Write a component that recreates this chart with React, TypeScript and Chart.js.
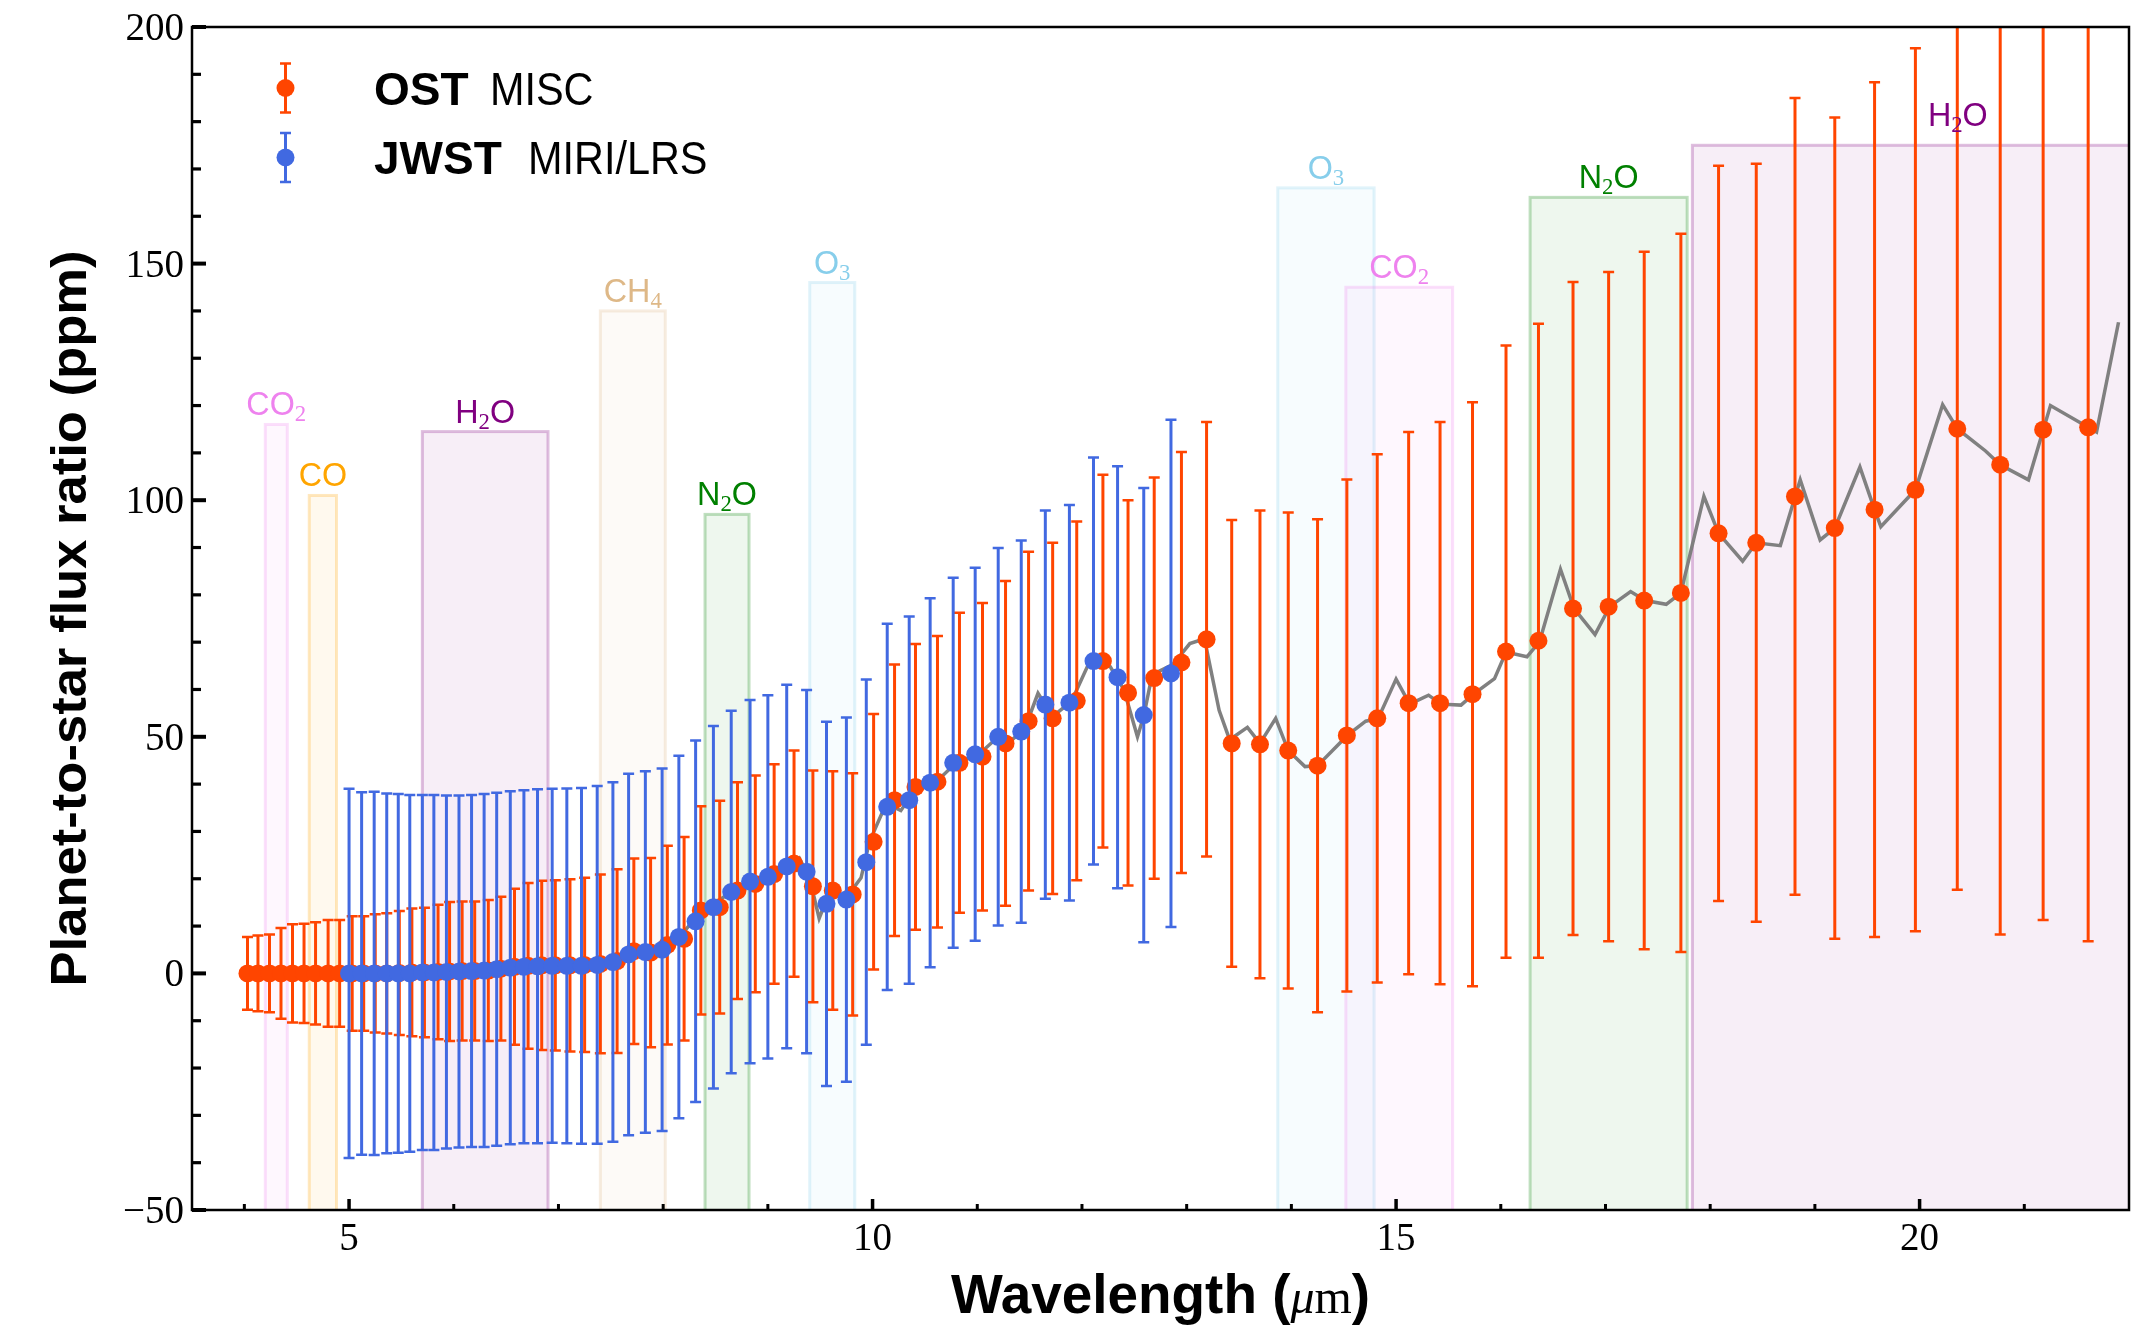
import React, { useEffect, useRef } from "react";
import { Chart, registerables } from "chart.js";

Chart.register(...registerables);

const W = 2152;
const H = 1326;

// ---------------- data ----------------
const ostWavelength = [
  4.03, 4.13, 4.24, 4.35, 4.46, 4.57, 4.68, 4.8, 4.91, 5.03, 5.14, 5.25, 5.36, 5.48, 5.6, 5.72, 5.85, 5.96,
  6.08, 6.2, 6.33, 6.45, 6.58, 6.71, 6.84, 6.97, 7.11, 7.25, 7.4, 7.56, 7.72, 7.88, 8.04, 8.2, 8.36, 8.54,
  8.71, 8.88, 9.06, 9.25, 9.43, 9.62, 9.81, 10.01, 10.21, 10.41, 10.62, 10.83, 11.05, 11.27, 11.49, 11.72,
  11.95, 12.2, 12.44, 12.69, 12.95, 13.19, 13.43, 13.7, 13.97, 14.25, 14.53, 14.82, 15.12, 15.42, 15.73,
  16.05, 16.36, 16.69, 17.03, 17.37, 17.72, 18.08, 18.44, 18.81, 19.19, 19.57, 19.96, 20.36, 20.77, 21.18,
  21.61,
];
const ostFlux = [
  0, 0, 0, 0, 0, 0, 0, 0, 0, 0, 0, 0, 0, 0.1, 0.2, 0.2, 0.3, 0.4, 0.5, 0.5, 0.6, 1.0, 1.4, 1.6, 1.7, 1.7,
  1.7, 1.8, 2.0, 2.6, 4.7, 4.4, 6.0, 7.3, 13.3, 14.0, 17.5, 18.9, 21.0, 23.2, 18.4, 17.5, 16.7, 27.8, 36.6,
  39.4, 40.5, 44.5, 45.8, 48.6, 53.3, 53.9, 57.6, 66.0, 59.3, 62.4, 65.7, 70.6, 48.6, 48.4, 47.1, 43.9, 50.3,
  53.9, 57.1, 57.1, 59.0, 68.0, 70.3, 77.1, 77.5, 78.8, 80.4, 93.0, 91.0, 100.8, 94.1, 98.0, 102.2, 115.1,
  107.5, 114.9, 115.4,
];
const ostError = [
  7.7, 8.0, 8.2, 9.6, 10.4, 10.5, 10.8, 11.3, 11.3, 12.1, 12.1, 12.5, 12.7, 13.1, 13.5, 13.7, 14.2, 14.7,
  14.7, 14.7, 14.9, 15.2, 16.5, 17.5, 17.9, 18.0, 18.2, 18.4, 18.9, 19.4, 19.6, 20.0, 21.0, 21.5, 22.0, 22.5,
  22.9, 22.9, 23.2, 23.9, 24.5, 25.2, 25.6, 27.0, 28.7, 30.2, 30.8, 31.7, 32.5, 34.3, 35.8, 37.1, 37.9, 39.4,
  40.7, 42.4, 44.5, 45.9, 47.2, 49.4, 50.3, 52.1, 54.1, 55.8, 57.3, 59.4, 61.7, 64.7, 67.0, 69.0, 70.7, 73.7,
  75.9, 77.7, 80.1, 84.2, 86.8, 90.3, 93.3, 97.4, 99.3, 103.6, 108.6,
];

const jwstWavelength = [
  5.0, 5.12, 5.24, 5.36, 5.47, 5.58, 5.7, 5.81, 5.93, 6.05, 6.17, 6.29, 6.41, 6.54, 6.67, 6.8, 6.94, 7.08,
  7.22, 7.37, 7.52, 7.67, 7.83, 7.99, 8.15, 8.31, 8.48, 8.65, 8.83, 9.0, 9.18, 9.37, 9.56, 9.75, 9.94, 10.14,
  10.35, 10.55, 10.77, 10.98, 11.2, 11.42, 11.65, 11.88, 12.11, 12.34, 12.59, 12.85,
];
const jwstFlux = [
  0, 0, 0, 0, 0, 0, 0.2, 0.2, 0.3, 0.4, 0.5, 0.6, 0.9, 1.2, 1.4, 1.5, 1.6, 1.6, 1.6, 1.8, 2.4, 4.0, 4.5, 5.0,
  7.7, 11.0, 14.0, 17.2, 19.4, 20.4, 22.6, 21.5, 14.7, 15.6, 23.5, 35.2, 36.6, 40.3, 44.5, 46.3, 50.0, 51.1,
  56.8, 57.2, 66.0, 62.6, 54.6, 63.4,
];
const jwstError = [
  39.0, 38.3, 38.4, 38.0, 37.9, 37.7, 37.5, 37.5, 37.3, 37.2, 37.2, 37.3, 37.3, 37.3, 37.3, 37.4, 37.4, 37.5,
  37.6, 37.8, 38.0, 38.2, 38.2, 38.3, 38.3, 38.2, 38.3, 38.3, 38.4, 38.4, 38.4, 38.4, 38.5, 38.5, 38.6, 38.7,
  38.8, 39.0, 39.1, 39.4, 39.9, 40.4, 41.0, 41.8, 43.0, 44.6, 48.0, 53.6,
];

const modelWavelength = [
  4.0, 4.5, 5.0, 5.5, 6.0, 6.5, 7.0, 7.4, 7.55, 7.7, 7.85, 8.0, 8.15, 8.3, 8.45, 8.6, 8.75, 8.9, 9.05, 9.2,
  9.3, 9.4, 9.49, 9.55, 9.61, 9.75, 9.89, 9.97, 10.13, 10.27, 10.35, 10.45, 10.6, 10.75, 10.85, 11.0, 11.2,
  11.3, 11.45, 11.58, 11.72, 11.9, 12.08, 12.27, 12.4, 12.53, 12.59, 12.67, 12.87, 13.03, 13.17, 13.31, 13.41,
  13.58, 13.7, 13.85, 13.97, 14.13, 14.25, 14.54, 14.71, 14.83, 15.0, 15.13, 15.31, 15.43, 15.62, 15.74, 15.94,
  16.05, 16.25, 16.37, 16.57, 16.7, 16.9, 17.04, 17.24, 17.38, 17.58, 17.72, 17.94, 18.08, 18.31, 18.44, 18.67,
  18.86, 19.05, 19.19, 19.43, 19.57, 19.63, 19.96, 20.22, 20.36, 20.63, 20.77, 21.04, 21.25, 21.61, 21.69,
  21.9,
];
const modelFlux = [
  0, 0, 0, 0.1, 0.3, 1.0, 1.6, 1.9, 2.5, 4.3, 4.4, 5.2, 7.5, 11.5, 14.0, 16.5, 18.0, 19.2, 20.8, 23.0, 24.4,
  20.0, 11.6, 15.0, 16.7, 16.0, 20.2, 27.8, 35.9, 34.4, 37.0, 39.4, 40.3, 43.5, 45.0, 46.0, 50.0, 48.8, 51.5,
  59.2, 54.3, 57.5, 66.2, 64.8, 60.0, 50.0, 54.4, 63.1, 65.3, 69.7, 70.7, 55.6, 49.4, 52.0, 48.6, 53.9, 47.1,
  43.7, 43.9, 50.4, 53.3, 53.9, 62.2, 56.9, 58.8, 56.9, 56.7, 59.0, 62.3, 67.9, 66.9, 70.1, 85.4, 77.1, 71.6,
  77.5, 80.7, 78.8, 78.0, 80.4, 100.8, 93.0, 87.1, 91.0, 90.4, 104.3, 91.6, 94.1, 107.0, 98.0, 94.4, 102.2,
  120.2, 115.1, 110.4, 107.5, 104.3, 120.0, 115.4, 114.4, 137.6,
];

const bandMolecule = ["CO2", "CO", "H2O", "CH4", "N2O", "O3", "O3", "CO2", "N2O", "H2O"];
const bandStart = [4.2, 4.62, 5.7, 7.4, 8.4, 9.4, 13.87, 14.52, 16.28, 17.83];
const bandEnd = [4.41, 4.88, 6.9, 8.02, 8.82, 9.83, 14.79, 15.54, 17.78, 22.9];
const bandTop = [116, 101, 114.5, 140, 97, 146, 166, 145, 164, 175];
const bandColor = ["#EE82EE", "#FFA500", "#800080", "#DEB887", "#008000", "#87CEEB", "#87CEEB", "#EE82EE", "#008000", "#800080"];
const bandLabelLift = [9, 9, 9, 9, 9, 9, 9, 9, 9, 19];

const xMajorTicks = [5, 10, 15, 20];
const xMinorTicks = [4, 6, 7, 8, 9, 11, 12, 13, 14, 16, 17, 18, 19, 21];
const yMajorTicks = [-50, 0, 50, 100, 150, 200];
const yMinorTicks = [-40, -30, -20, -10, 10, 20, 30, 40, 60, 70, 80, 90, 110, 120, 130, 140, 160, 170, 180, 190];

const OST_COLOR = "#FF4500";
const JWST_COLOR = "#4169E1";
const SANS = '"Liberation Sans", Arial, sans-serif';
const SERIF = '"Liberation Serif", "Times New Roman", serif';

// ---------------- helpers ----------------
function rgba(hex: string, a: number) {
  const n = parseInt(hex.slice(1), 16);
  return `rgba(${(n >> 16) & 255},${(n >> 8) & 255},${n & 255},${a})`;
}

type Run = { text: string; font: string; dy?: number };

function drawRuns(
  ctx: CanvasRenderingContext2D,
  runs: Run[],
  x: number,
  y: number,
  align: "left" | "center",
  scaleX = 1,
  targetWidth?: number
) {
  let total = 0;
  const ws = runs.map((r) => {
    ctx.font = r.font;
    const w = ctx.measureText(r.text).width;
    total += w;
    return w;
  });
  const sx = targetWidth ? targetWidth / total : scaleX;
  ctx.save();
  ctx.translate(x, y);
  ctx.scale(sx, 1);
  ctx.textBaseline = "alphabetic";
  ctx.textAlign = "left";
  let cx = align === "center" ? -total / 2 : 0;
  runs.forEach((r, i) => {
    ctx.font = r.font;
    ctx.fillText(r.text, cx, r.dy ?? 0);
    cx += ws[i];
  });
  ctx.restore();
}

function moleculeRuns(m: string): Run[] {
  return m.split("").map((ch) =>
    /[0-9]/.test(ch)
      ? { text: ch, font: `24px ${SERIF}`, dy: 6 }
      : { text: ch, font: `34px ${SANS}` }
  );
}

// ---------------- plugins ----------------
const bandPlugin = {
  id: "bands",
  beforeDatasetsDraw(chart: any) {
    const { ctx, chartArea: a, scales } = chart;
    const xs = scales.x;
    const ys = scales.y;
    ctx.save();
    ctx.beginPath();
    ctx.rect(a.left, a.top, a.right - a.left, a.bottom - a.top);
    ctx.clip();
    bandMolecule.forEach((_m, i) => {
      const x0 = xs.getPixelForValue(bandStart[i]);
      const x1 = xs.getPixelForValue(bandEnd[i]);
      const yt = ys.getPixelForValue(bandTop[i]);
      const yb = ys.getPixelForValue(-50) + 3;
      ctx.fillStyle = rgba(bandColor[i], 0.065);
      ctx.fillRect(x0, yt, x1 - x0, yb - yt);
      ctx.strokeStyle = rgba(bandColor[i], 0.25);
      ctx.lineWidth = 3;
      ctx.strokeRect(x0, yt, x1 - x0, yb - yt);
    });
    ctx.restore();
  },
  afterDatasetsDraw(chart: any) {
    const { ctx, scales } = chart;
    const xs = scales.x;
    const ys = scales.y;
    ctx.save();
    bandMolecule.forEach((m, i) => {
      const cx = (xs.getPixelForValue(bandStart[i]) + xs.getPixelForValue(bandEnd[i])) / 2;
      const yt = ys.getPixelForValue(bandTop[i]);
      ctx.fillStyle = bandColor[i];
      drawRuns(ctx, moleculeRuns(m), cx, yt - bandLabelLift[i], "center", 0.95);
    });
    ctx.restore();
  },
};

const errorBarPlugin = {
  id: "errorBars",
  beforeDatasetDraw(chart: any, args: any) {
    const ds = chart.data.datasets[args.index];
    const err: number[] | undefined = ds.errors;
    if (!err) return;
    const { ctx, chartArea: a, scales } = chart;
    const xs = scales.x;
    const ys = scales.y;
    ctx.save();
    ctx.beginPath();
    ctx.rect(a.left, a.top, a.right - a.left, a.bottom - a.top);
    ctx.clip();
    ctx.strokeStyle = ds.backgroundColor;
    ds.data.forEach((p: any, i: number) => {
      const px = xs.getPixelForValue(p.x);
      const top = ys.getPixelForValue(p.y + err[i]);
      const bot = ys.getPixelForValue(p.y - err[i]);
      ctx.lineWidth = 3;
      ctx.beginPath();
      ctx.moveTo(px, top);
      ctx.lineTo(px, bot);
      ctx.stroke();
      ctx.lineWidth = 2.5;
      ctx.beginPath();
      ctx.moveTo(px - 5.5, top);
      ctx.lineTo(px + 5.5, top);
      ctx.moveTo(px - 5.5, bot);
      ctx.lineTo(px + 5.5, bot);
      ctx.stroke();
    });
    ctx.restore();
  },
};

const framePlugin = {
  id: "frame",
  beforeDraw(chart: any) {
    const { ctx } = chart;
    ctx.save();
    ctx.fillStyle = "#ffffff";
    ctx.fillRect(0, 0, chart.width, chart.height);
    ctx.restore();
  },
  afterDraw(chart: any) {
    const { ctx, chartArea: a, scales } = chart;
    const xs = scales.x;
    const ys = scales.y;
    ctx.save();
    // spines
    ctx.strokeStyle = "#000";
    ctx.lineWidth = 2.5;
    ctx.strokeRect(a.left, a.top, a.right - a.left, a.bottom - a.top);

    // x ticks
    ctx.lineCap = "butt";
    xMajorTicks.forEach((v) => {
      const px = xs.getPixelForValue(v);
      ctx.lineWidth = 3.5;
      ctx.beginPath();
      ctx.moveTo(px, a.bottom);
      ctx.lineTo(px, a.bottom - 11);
      ctx.stroke();
    });
    xMinorTicks.forEach((v) => {
      const px = xs.getPixelForValue(v);
      ctx.lineWidth = 3;
      ctx.beginPath();
      ctx.moveTo(px, a.bottom);
      ctx.lineTo(px, a.bottom - 6);
      ctx.stroke();
    });
    // y ticks
    yMajorTicks.forEach((v) => {
      const py = ys.getPixelForValue(v);
      ctx.lineWidth = 4;
      ctx.beginPath();
      ctx.moveTo(a.left, py);
      ctx.lineTo(a.left + 14, py);
      ctx.stroke();
    });
    yMinorTicks.forEach((v) => {
      const py = ys.getPixelForValue(v);
      ctx.lineWidth = 3.2;
      ctx.beginPath();
      ctx.moveTo(a.left, py);
      ctx.lineTo(a.left + 9, py);
      ctx.stroke();
    });

    // tick labels
    ctx.fillStyle = "#000";
    ctx.font = `39px ${SERIF}`;
    ctx.textBaseline = "alphabetic";
    ctx.textAlign = "center";
    xMajorTicks.forEach((v) => {
      ctx.fillText(String(v), xs.getPixelForValue(v), a.bottom + 40);
    });
    ctx.textAlign = "right";
    yMajorTicks.forEach((v) => {
      const label = v < 0 ? "\u2212" + Math.abs(v) : String(v);
      ctx.fillText(label, a.left - 8, ys.getPixelForValue(v) + 13);
    });

    // axis titles
    drawRuns(
      ctx,
      [
        { text: "Wavelength (", font: `bold 55px ${SANS}` },
        { text: "\u03BC", font: `italic 48px ${SERIF}` },
        { text: "m", font: `48px ${SERIF}` },
        { text: ")", font: `bold 55px ${SANS}` },
      ],
      (a.left + a.right) / 2,
      1313,
      "center",
      1,
      419
    );
    ctx.save();
    ctx.translate(86, (a.top + a.bottom) / 2);
    ctx.rotate(-Math.PI / 2);
    drawRuns(ctx, [{ text: "Planet-to-star flux ratio (ppm)", font: `bold 50px ${SANS}` }], 0, 0, "center", 1, 736);
    ctx.restore();

    // legend
    const legendItems = [
      { color: OST_COLOR, bold: "OST", rest: "MISC", cy: 88, restX: 490 },
      { color: JWST_COLOR, bold: "JWST", rest: "MIRI/LRS", cy: 157.5, restX: 528 },
    ];
    legendItems.forEach((it) => {
      const mx = 285.5;
      ctx.strokeStyle = it.color;
      ctx.fillStyle = it.color;
      ctx.lineWidth = 3;
      ctx.beginPath();
      ctx.moveTo(mx, it.cy - 24.5);
      ctx.lineTo(mx, it.cy + 24.5);
      ctx.stroke();
      ctx.lineWidth = 2.5;
      ctx.beginPath();
      ctx.moveTo(mx - 5.5, it.cy - 24.5);
      ctx.lineTo(mx + 5.5, it.cy - 24.5);
      ctx.moveTo(mx - 5.5, it.cy + 24.5);
      ctx.lineTo(mx + 5.5, it.cy + 24.5);
      ctx.stroke();
      ctx.beginPath();
      ctx.arc(mx, it.cy, 9, 0, Math.PI * 2);
      ctx.fill();
      ctx.fillStyle = "#000";
      drawRuns(ctx, [{ text: it.bold, font: `bold 46px ${SANS}` }], 374, it.cy + 16.5, "left", 1);
      drawRuns(ctx, [{ text: it.rest, font: `46px ${SANS}` }], it.restX, it.cy + 16.5, "left", 0.9);
    });
    ctx.restore();
  },
};

// ---------------- component ----------------
export default function App() {
  const ref = useRef<HTMLCanvasElement>(null);

  useEffect(() => {
    if (!ref.current) return;
    const chart = new Chart(ref.current, {
      type: "scatter",
      data: {
        datasets: [
          {
            label: "model",
            data: modelWavelength.map((x, i) => ({ x, y: modelFlux[i] })),
            showLine: true,
            borderColor: "#808080",
            backgroundColor: "#808080",
            borderWidth: 3.5,
            pointRadius: 0,
            tension: 0,
            order: 3,
          },
          {
            label: "OST MISC",
            data: ostWavelength.map((x, i) => ({ x, y: ostFlux[i] })),
            backgroundColor: OST_COLOR,
            borderColor: OST_COLOR,
            pointRadius: 9,
            pointBorderWidth: 0,
            errors: ostError,
            order: 2,
          } as any,
          {
            label: "JWST MIRI/LRS",
            data: jwstWavelength.map((x, i) => ({ x, y: jwstFlux[i] })),
            backgroundColor: JWST_COLOR,
            borderColor: JWST_COLOR,
            pointRadius: 9,
            pointBorderWidth: 0,
            errors: jwstError,
            order: 1,
          } as any,
        ],
      },
      options: {
        animation: false,
        responsive: false,
        devicePixelRatio: 1,
        events: [],
        layout: { padding: { top: 27, right: 23, left: 0, bottom: 0 } },
        plugins: { legend: { display: false }, tooltip: { enabled: false } },
        scales: {
          x: {
            type: "linear",
            min: 3.5,
            max: 22,
            ticks: { display: false },
            grid: { display: false },
            border: { display: false },
            afterFit: (s: any) => {
              s.height = 116;
            },
          },
          y: {
            type: "linear",
            min: -50,
            max: 200,
            ticks: { display: false },
            grid: { display: false },
            border: { display: false },
            afterFit: (s: any) => {
              s.width = 192;
            },
          },
        },
      },
      plugins: [bandPlugin, errorBarPlugin, framePlugin],
    } as any);
    return () => chart.destroy();
  }, []);

  return (
    <div style={{ position: "absolute", left: 0, top: 0, width: W, height: H, background: "#fff" }}>
      <canvas ref={ref} width={W} height={H} style={{ width: W, height: H, display: "block" }} />
    </div>
  );
}
